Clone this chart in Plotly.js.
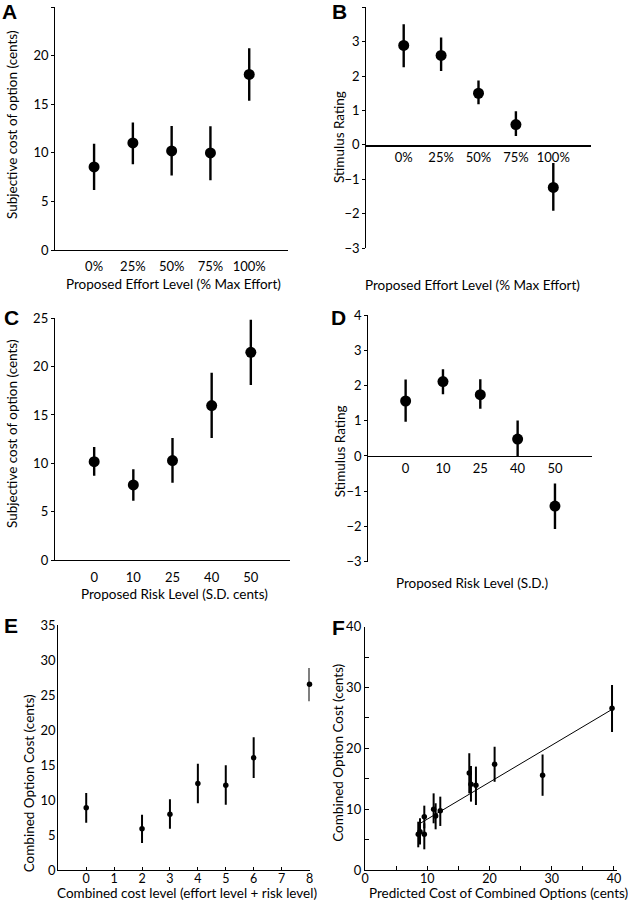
<!DOCTYPE html>
<html>
<head>
<meta charset="utf-8">
<script src="https://cdn.plot.ly/plotly-3.0.1.min.js"></script>
<style>html,body{margin:0;padding:0;background:#fff;}#chart{width:628px;height:900px;}</style>
</head>
<body>
<div id="chart"></div>
<script>
// ---------- data ----------
const effortLabels = ['0%', '25%', '50%', '75%', '100%'];
const riskLabels = ['0', '10', '25', '40', '50'];
const levelPos = [1, 2, 3, 4, 5];

// A: subjective cost vs effort
const costEffort   = [8.55, 11.01, 10.19, 9.99, 18.06];
const costEffortHi = [10.94, 13.13, 12.76, 12.72, 20.76];
const costEffortLo = [6.16, 8.82, 7.66, 7.18, 15.36];

// B: stimulus rating vs effort
const rateEffort   = [2.89, 2.60, 1.50, 0.59, -1.24];
const rateEffortHi = [3.51, 3.12, 1.87, 0.98, -0.53];
const rateEffortLo = [2.26, 2.15, 1.18, 0.26, -1.92];

// C: subjective cost vs risk
const costRisk   = [10.17, 7.76, 10.28, 15.97, 21.48];
const costRiskHi = [11.69, 9.38, 12.62, 19.38, 24.86];
const costRiskLo = [8.72, 6.14, 8.00, 12.62, 18.10];

// D: stimulus rating vs risk
const rateRisk   = [1.56, 2.11, 1.74, 0.48, -1.42];
const rateRiskHi = [2.17, 2.46, 2.18, 1.01, -0.78];
const rateRiskLo = [0.97, 1.75, 1.34, 0.00, -2.07];

// E: combined option cost vs combined cost level
const combLevel  = [0, 2, 3, 4, 5, 6, 8];
const combCost   = [8.88, 5.89, 7.98, 12.35, 12.11, 16.05, 26.54];
const combCostHi = [11.00, 7.88, 10.11, 15.19, 14.96, 18.95, 28.87];
const combCostLo = [6.74, 3.85, 5.89, 9.54, 9.31, 13.15, 24.12];
const combTicks  = [0, 1, 2, 3, 4, 5, 6, 7, 8];

// F: combined option cost vs predicted cost
const predCost  = [8.56, 8.84, 9.53, 9.53, 11.03, 11.35, 12.10, 16.76, 17.03, 17.83, 20.83, 28.54, 39.70];
const obsCost   = [5.87, 6.30, 8.77, 5.87, 9.98, 8.88, 9.75, 15.95, 14.10, 13.93, 17.38, 15.57, 26.60];
const obsCostHi = [7.94, 8.50, 10.58, 7.68, 12.60, 10.97, 12.06, 19.19, 17.10, 17.00, 20.28, 19.00, 30.40];
const obsCostLo = [3.73, 4.20, 6.85, 3.40, 7.68, 6.69, 7.24, 12.60, 11.24, 10.69, 14.50, 12.20, 22.70];
const fitX = [8.6, 39.7];
const fitY = [7.5, 26.4];

// ---------- helpers ----------
const W = 628, H = 900;
const FONT = 'Lato, "Open Sans", sans-serif';
const px = v => v / W;
const py = v => 1 - v / H;
const plus = (hi, y) => hi.map((h, i) => h - y[i]);
const minus = (lo, y) => lo.map((l, i) => y[i] - l);

function pts(x, y, hi, lo, xa, ya, msize, ew) {
  return {
    type: 'scatter', mode: 'markers', x: x, y: y, xaxis: xa, yaxis: ya,
    marker: {color: '#000', size: msize},
    error_y: {type: 'data', symmetric: false, array: plus(hi, y), arrayminus: minus(lo, y),
              color: '#000', thickness: ew, width: 0},
    cliponaxis: false, showlegend: false, hoverinfo: 'x+y'
  };
}

const data = [
  pts(levelPos, costEffort, costEffortHi, costEffortLo, 'x', 'y', 11, 2.4),
  pts(levelPos, rateEffort, rateEffortHi, rateEffortLo, 'x2', 'y2', 11, 2.4),
  pts(levelPos, costRisk, costRiskHi, costRiskLo, 'x3', 'y3', 11, 2.4),
  pts(levelPos, rateRisk, rateRiskHi, rateRiskLo, 'x4', 'y4', 11, 2.4),
  pts(combLevel, combCost, combCostHi, combCostLo, 'x5', 'y5', 5.5, 2),
  pts(predCost, obsCost, obsCostHi, obsCostLo, 'x6', 'y6', 5.5, 2),
  {type: 'scatter', mode: 'lines', x: fitX, y: fitY, xaxis: 'x6', yaxis: 'y6',
   line: {color: '#000', width: 1}, showlegend: false, hoverinfo: 'skip'}
];

const tickFont = {family: FONT, size: 13, color: '#000'};
const smallTick = {family: FONT, size: 12.5, color: '#000'};
const baseAx = {showline: true, linecolor: '#000', linewidth: 1.2, showgrid: false,
                zeroline: false, tickfont: tickFont, fixedrange: true, tickcolor: '#000'};

function ax(o) { return Object.assign({}, baseAx, o); }

const layout = {
  width: W, height: H,
  margin: {l: 0, r: 0, t: 0, b: 0},
  paper_bgcolor: '#fff', plot_bgcolor: 'rgba(0,0,0,0)',
  showlegend: false,
  font: {family: FONT, color: '#000'},
  // A
  xaxis: ax({domain: [px(55.3), px(288)], range: [0, 6], anchor: 'y',
             tickvals: levelPos, ticktext: effortLabels, ticks: '', ticklabelstandoff: 4}),
  yaxis: ax({domain: [py(250), py(7)], range: [0, 25], dtick: 5, anchor: 'x',
             ticks: 'outside', ticklen: 3}),
  // B
  xaxis2: ax({domain: [px(366.3), px(590.7)], range: [0, 6], anchor: 'free', position: py(145.3),
              tickvals: levelPos, ticktext: effortLabels, ticks: ''}),
  yaxis2: ax({domain: [py(248), py(7.3)], range: [-3, 4], dtick: 1, anchor: 'x2',
              ticks: 'outside', ticklen: 3}),
  // C
  xaxis3: ax({domain: [px(55), px(290)], range: [0, 6], anchor: 'y3',
              tickvals: levelPos, ticktext: riskLabels, ticks: '', ticklabelstandoff: 5}),
  yaxis3: ax({domain: [py(560), py(318.3)], range: [0, 25], dtick: 5, anchor: 'x3',
              ticks: 'outside', ticklen: 3}),
  // D
  xaxis4: ax({domain: [px(368.3), px(592.3)], range: [0, 6], anchor: 'free', position: py(455.7),
              tickvals: levelPos, ticktext: riskLabels, ticks: ''}),
  yaxis4: ax({domain: [py(561.7), py(315)], range: [-3, 4], dtick: 1, anchor: 'x4',
              ticks: 'outside', ticklen: 3}),
  // E
  xaxis5: ax({domain: [px(58.3), px(309.5)], range: [-1, 8], anchor: 'y5',
              tickvals: combTicks, ticks: 'inside', ticklen: 3, ticklabelstandoff: -3,
              tickfont: smallTick}),
  yaxis5: ax({domain: [py(870), py(625)], range: [0, 35], dtick: 5, anchor: 'x5',
              ticks: '', ticklabelstandoff: -1}),
  // F
  xaxis6: ax({domain: [px(365), px(617)], range: [0, 40.5], anchor: 'y6',
              tickvals: [0, 10, 20, 30, 40], ticks: 'inside', ticklen: 4, ticklabelstandoff: -3,
              tickfont: smallTick,
              minor: {tickvals: [5, 15, 25, 35], ticks: 'inside', ticklen: 4, tickcolor: '#000'}}),
  yaxis6: ax({domain: [py(870), py(626.7)], range: [0, 40], anchor: 'x6',
              tickvals: [0, 10, 20, 30, 40], ticks: 'inside', ticklen: 4, ticklabelstandoff: 0,
              minor: {tickvals: [5, 15, 25, 35], ticks: 'inside', ticklen: 4, tickcolor: '#000'}}),
  annotations: []
};

// axis titles as positioned text
const titleFont = {family: FONT, size: 13.5, color: '#000'};
function lbl(text, x, y, rot, size) {
  return {text: text, xref: 'paper', yref: 'paper', x: px(x), y: py(y), xanchor: 'center',
          yanchor: 'middle', showarrow: false, textangle: rot || 0,
          font: Object.assign({}, titleFont, size ? {size: size} : {})};
}
layout.annotations.push(
  lbl('Subjective cost of option (cents)', 12, 125, -90),
  lbl('Proposed Effort Level (% Max Effort)', 173, 284),
  lbl('Stimulus Rating', 339, 137, -90),
  lbl('Proposed Effort Level (% Max Effort)', 472.3, 285),
  lbl('Subjective cost of option (cents)', 12, 434, -90),
  lbl('Proposed Risk Level (S.D. cents)', 174, 594),
  lbl('Stimulus Rating', 339.5, 451.7, -90),
  lbl('Proposed Risk Level (S.D.)', 472, 582.7),
  lbl('Combined Option Cost (cents)', 29, 783.3, -90),
  lbl('Combined cost level (effort level + risk level)', 186.5, 893, 0, 13.5),
  lbl('Combined Option Cost (cents)', 338.5, 753.3, -90),
  lbl('Predicted Cost of Combined Options (cents)', 498, 893, 0, 13.5)
);

// panel letters
const letterFont = {family: '"Liberation Sans", Arial, sans-serif', size: 21, color: '#000'};
function letter(t, x, y) {
  return {text: '<b>' + t + '</b>', xref: 'paper', yref: 'paper', x: px(x), y: py(y),
          xanchor: 'left', yanchor: 'middle', showarrow: false, font: letterFont};
}
layout.annotations.push(
  letter('A', 0, 11), letter('B', 330, 12), letter('C', 2, 318),
  letter('D', 329, 318), letter('E', 2, 625), letter('F', 330, 627)
);

Plotly.newPlot('chart', data, layout, {staticPlot: true, displayModeBar: false});
</script>
</body>
</html>
